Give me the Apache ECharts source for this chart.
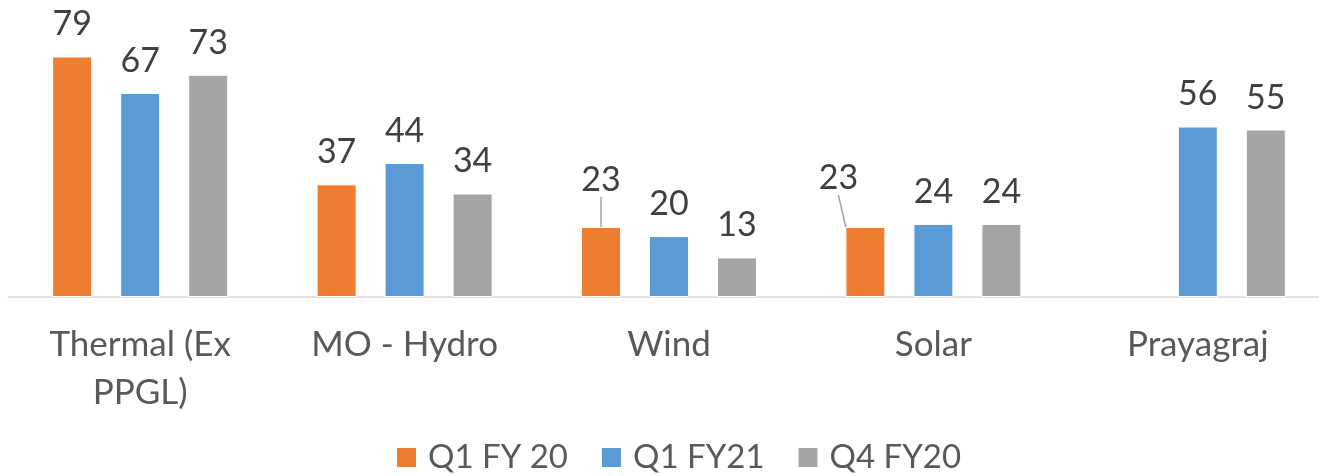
<!DOCTYPE html>
<html>
<head>
<meta charset="utf-8">
<script src="https://cdn.jsdelivr.net/npm/echarts@6/dist/echarts.min.js"></script>
<style>
  html, body { margin: 0; padding: 0; background: #fff; }
  #chart { width: 1319px; height: 476px; }
</style>
</head>
<body>
<div id="chart"></div>
<script>
  // categories + series values
  const categories = ['Thermal (Ex\nPPGL)', 'MO - Hydro', 'Wind', 'Solar', 'Prayagraj'];
  const q1fy20 = [79, 37, 23, 23, null];
  const q1fy21 = [67, 44, 20, 24, 56];
  const q4fy20 = [73, 34, 13, 24, 55];

  const font = 'Lato, "Open Sans", sans-serif';

  const myChart = echarts.init(document.getElementById('chart'));

  function makeSeries(name, data, color) {
    return {
      name: name,
      type: 'bar',
      data: data,
      barWidth: 40,
      barGap: '70%',
      itemStyle: { color: color, borderColor: '#fff', borderWidth: 1 },
      label: {
        show: true,
        position: 'top',
        distance: 15,
        color: '#404040',
        fontFamily: font,
        fontSize: 34
      },
      labelLine: { show: false }
    };
  }

  // Wind and Solar labels of the orange series sit higher, with a leader line
  const moved = { 2: { dy: -15 }, 3: { dx: -27, dy: -17 } };
  const s1 = makeSeries('Q1 FY 20', q1fy20.map(function (v, i) {
    if (moved[i]) {
      return { value: v, labelLine: { show: true, lineStyle: { color: '#a6a6a6', width: 1.5 } } };
    }
    return v;
  }), '#ED7D31');
  s1.labelLayout = function (params) {
    return moved[params.dataIndex] || {};
  };

  myChart.setOption({
    animation: false,
    legend: {
      top: 436,
      left: 390,
      icon: 'rect',
      itemWidth: 21,
      itemHeight: 21,
      itemGap: 32,
      textStyle: { color: '#595959', fontFamily: font, fontSize: 33, padding: [0, 0, 0, 6] },
      data: ['Q1 FY 20', 'Q1 FY21', 'Q4 FY20']
    },
    grid: { left: 8, width: 1322, top: 23, bottom: 179, outerBoundsMode: 'none' },
    xAxis: {
      type: 'category',
      data: categories,
      axisLine: { lineStyle: { color: '#d9d9d9', width: 1.5 } },
      axisTick: { show: false },
      axisLabel: {
        color: '#595959',
        fontFamily: font,
        fontSize: 35,
        lineHeight: 48,
        margin: 24,
        interval: 0
      }
    },
    yAxis: {
      type: 'value',
      min: 0,
      max: 90,
      show: false,
      splitLine: { show: false }
    },
    series: [
      s1,
      makeSeries('Q1 FY21', q1fy21, '#5B9BD5'),
      makeSeries('Q4 FY20', q4fy20, '#A5A5A5')
    ]
  });
</script>
</body>
</html>
